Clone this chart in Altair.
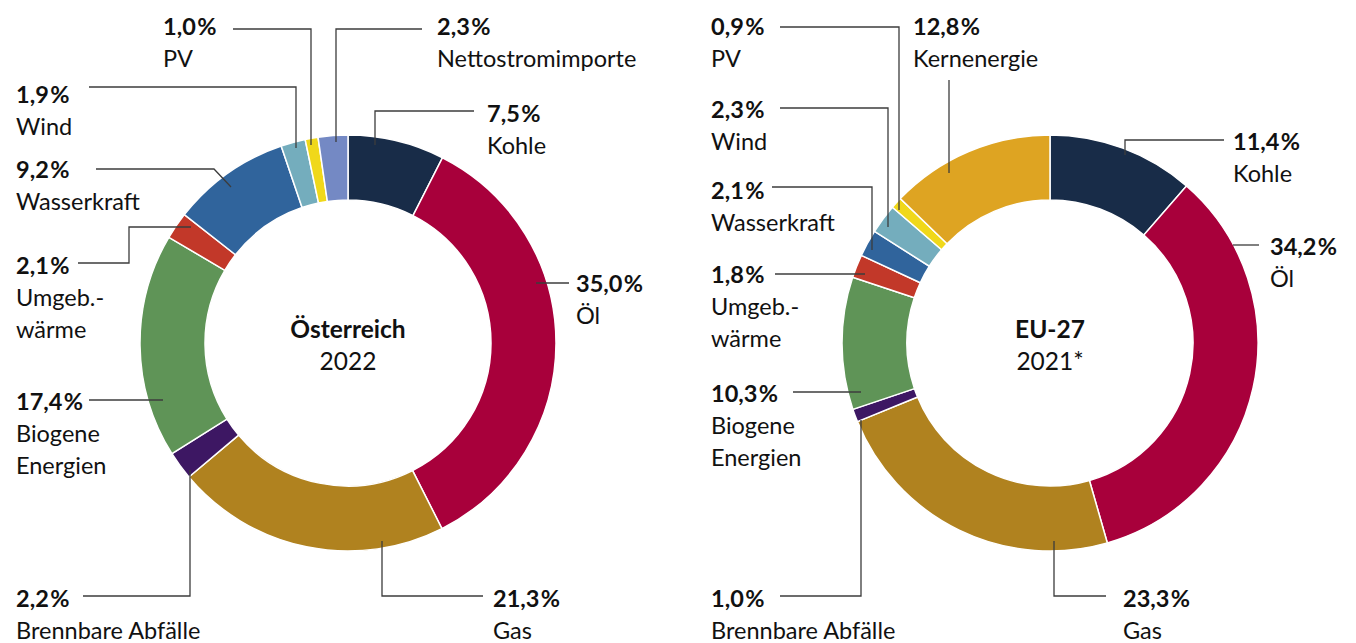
import altair as alt
import pandas as pd

# ---------------- data ----------------
AT_CATS = ["Kohle", "Öl", "Gas", "Brennbare Abfälle", "Biogene Energien",
           "Umgebungswärme", "Wasserkraft", "Wind", "PV", "Nettostromimporte"]
AT_VALUES = [7.5, 35.0, 21.3, 2.2, 17.4, 2.1, 9.2, 1.9, 1.0, 2.3]
AT_LABELS = [["Kohle"], ["Öl"], ["Gas"], ["Brennbare Abfälle"], ["Biogene", "Energien"],
             ["Umgeb.-", "wärme"], ["Wasserkraft"], ["Wind"], ["PV"], ["Nettostromimporte"]]

EU_CATS = ["Kohle", "Öl", "Gas", "Brennbare Abfälle", "Biogene Energien",
           "Umgebungswärme", "Wasserkraft", "Wind", "PV", "Kernenergie"]
EU_VALUES = [11.4, 34.2, 23.3, 1.0, 10.3, 1.8, 2.1, 2.3, 0.9, 12.8]
EU_LABELS = [["Kohle"], ["Öl"], ["Gas"], ["Brennbare Abfälle"], ["Biogene", "Energien"],
             ["Umgeb.-", "wärme"], ["Wasserkraft"], ["Wind"], ["PV"], ["Kernenergie"]]

TITLES = [("Österreich", "2022"), ("EU-27", "2021*")]

# ---------------- styles ----------------
COLORS = {
    "Kohle": "#182c48", "Öl": "#a8003b", "Gas": "#b0821f",
    "Brennbare Abfälle": "#3d1763", "Biogene Energien": "#5f9457",
    "Umgebungswärme": "#c23829", "Wasserkraft": "#30649c", "Wind": "#74adbd",
    "PV": "#f0d81a", "Nettostromimporte": "#7489c4", "Kernenergie": "#dea422",
}
FONT = "Lato"
FS = 23.5
LINE_H = 32
OFF = 8  # page margin

CENTERS = [(348, 343), (1050, 343)]
R_OUT, R_IN = 208, 143

# label anchor (page px: left x, first baseline y) and leader waypoints
AT_LAYOUT = [
    ((487, 122), [(474, 111), (375, 111), (375, 145)]),
    ((576, 292), [(569, 283), (536, 283)]),
    ((493, 607), [(483, 596), (382, 596), (382, 541)]),
    ((16, 607), [(83, 596), (190, 596), (190, 470)]),
    ((16, 410), [(89, 400), (163, 400)]),
    ((16, 274), [(78, 263), (129, 263), (129, 227), (191, 227)]),
    ((16, 178), [(96, 169), (214, 169), (231, 187)]),
    ((16, 103), [(89, 87), (296, 87), (296, 148)]),
    ((163, 35), [(233, 29), (311, 29), (311, 145)]),
    ((437, 35), [(422, 29), (336, 29), (336, 142)]),
]
EU_LAYOUT = [
    ((1233, 150), [(1224, 140), (1125, 140), (1125, 155)]),
    ((1270, 255), [(1259, 245), (1233, 245)]),
    ((1123, 607), [(1106, 596), (1054, 596), (1054, 541)]),
    ((711, 607), [(780, 596), (861, 596), (861, 420)]),
    ((711, 402), [(793, 392), (861, 392)]),
    ((711, 283), [(775, 274), (865, 274)]),
    ((711, 199), [(772, 187), (872, 187), (872, 250)]),
    ((711, 118), [(780, 108), (888, 108), (888, 227)]),
    ((711, 35), [(780, 27), (899, 27), (899, 210)]),
    ((913, 35), [(949, 80), (949, 173)]),
]


def pct(v):
    return f"{v:.1f}".replace(".", ",") + "\u200a%"


def build(cats, values, labels, layout, key):
    arcs = pd.DataFrame({
        "cat": cats, "value": values, "idx": list(range(len(cats))),
        "color": [COLORS[c] for c in cats],
    })
    bold, reg, lines = [], [], []
    for i, (v, lab, ((lx, ly), pts)) in enumerate(zip(values, labels, layout)):
        bold.append({"x": lx - OFF, "y": ly - OFF, "t": pct(v)})
        for j, s in enumerate(lab):
            reg.append({"x": lx - OFF, "y": ly - OFF + LINE_H * (j + 1), "t": s})
        for k, (px, py) in enumerate(pts):
            lines.append({"id": f"{key}{i}", "pt": k, "x": px - OFF, "y": py - OFF})
    return arcs, pd.DataFrame(bold), pd.DataFrame(reg), pd.DataFrame(lines)


layers = []
sets = [(AT_CATS, AT_VALUES, AT_LABELS, AT_LAYOUT, "a"),
        (EU_CATS, EU_VALUES, EU_LABELS, EU_LAYOUT, "e")]
for n, (cats, vals, labs, lay, key) in enumerate(sets):
    arcs, bold, reg, lines = build(cats, vals, labs, lay, key)
    cx, cy = CENTERS[n]
    arc = alt.Chart(arcs).mark_arc(
        radius=R_OUT, radius2=R_IN, stroke="white", strokeWidth=1.5
    ).encode(
        theta=alt.Theta("value:Q", stack=True),
        order=alt.Order("idx:Q"),
        color=alt.Color("color:N", scale=None),
        x=alt.value(cx - OFF), y=alt.value(cy - OFF),
    )
    ln = alt.Chart(lines).mark_line(color="#3c3c3c", strokeWidth=1.3).encode(
        x=alt.X("x:Q", scale=None, axis=None),
        y=alt.Y("y:Q", scale=None, axis=None),
        detail="id:N", order="pt:Q",
    )
    tb = alt.Chart(bold).mark_text(
        font=FONT, fontSize=FS, fontWeight="bold", align="left",
        baseline="alphabetic", color="#111111"
    ).encode(x=alt.X("x:Q", scale=None, axis=None),
             y=alt.Y("y:Q", scale=None, axis=None), text="t:N")
    tr = alt.Chart(reg).mark_text(
        font=FONT, fontSize=FS, align="left", baseline="alphabetic", color="#111111"
    ).encode(x=alt.X("x:Q", scale=None, axis=None),
             y=alt.Y("y:Q", scale=None, axis=None), text="t:N")
    title_df = pd.DataFrame({"t": [TITLES[n][0]], "s": [TITLES[n][1]]})
    t1 = alt.Chart(title_df).mark_text(
        font=FONT, fontSize=24.5, fontWeight="bold", align="center",
        baseline="alphabetic", color="#111111"
    ).encode(text="t:N", x=alt.value(cx - OFF), y=alt.value(338 - OFF))
    t2 = alt.Chart(title_df).mark_text(
        font=FONT, fontSize=24.5, align="center", baseline="alphabetic", color="#111111"
    ).encode(text="s:N", x=alt.value(cx - OFF), y=alt.value(370 - OFF))
    layers += [arc, ln, tb, tr, t1, t2]

chart = alt.layer(*layers).resolve_scale(theta="independent").properties(
    width=1340, height=627, padding=0
).configure_view(stroke=None)

chart.save("out.html", embed_options={"renderer": "svg", "actions": False})
